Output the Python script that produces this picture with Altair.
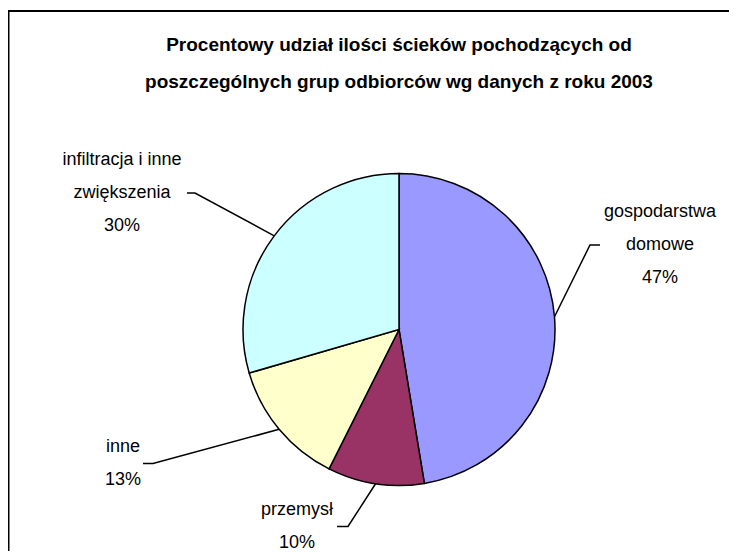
import math
import altair as alt
import pandas as pd

# ---- data ----
categories = ["gospodarstwa domowe", "przemysł", "inne", "infiltracja i inne zwiększenia"]
values = [47.4, 10.0, 13.1, 29.5]
label_names = [["gospodarstwa", "domowe"], ["przemysł"], ["inne"], ["infiltracja i inne", "zwiększenia"]]
colors = ["#9999FF", "#993366", "#FFFFCC", "#CCFFFF"]
title_lines = [
    "Procentowy udział ilości ścieków pochodzących od",
    "poszczególnych grup odbiorców wg danych z roku 2003",
]

# ---- layout (pixels inside the chart) ----
W, H = 721, 543
CX, CY, R = 391, 321.5, 156
LINE_H = 33
label_x = [652, 289, 115, 114]
label_y = [237, 518.5, 455.5, 185]   # vertical centre of each label block
elbow_x = [582, 340, 145, 187]
end_x = [592, 329, 135, 179]
title_x = 391
title_y = [37, 74]
FONT = "Liberation Sans"

total = sum(values)
pie_df = pd.DataFrame({"cat": categories, "value": values, "idx": list(range(len(values)))})

labels, text_y = [], []
for names, v, cy in zip(label_names, values, label_y):
    pct = round(v / total * 100)
    lines = names + [f"{pct}%"]
    labels.append("\n".join(lines))
    text_y.append(cy - (len(lines) - 1) * LINE_H / 2)
text_df = pd.DataFrame({"label": labels, "x": label_x, "y": text_y})

rows = []
cum = 0.0
for i, v in enumerate(values):
    mid = (cum + v / 2) / total * 2 * math.pi
    cum += v
    ex, ey = CX + R * math.sin(mid), CY - R * math.cos(mid)
    rows.append({"cat": categories[i], "o": 0, "x": ex, "y": ey})
    rows.append({"cat": categories[i], "o": 1, "x": elbow_x[i], "y": label_y[i]})
    rows.append({"cat": categories[i], "o": 2, "x": end_x[i], "y": label_y[i]})
lead_df = pd.DataFrame(rows)

title_df = pd.DataFrame({"t": title_lines, "x": [title_x] * 2, "y": title_y})

xs = alt.Scale(domain=[0, W], range=[0, W])
ys = alt.Scale(domain=[0, H], range=[0, H])

arcs = alt.Chart(pie_df).mark_arc(
    outerRadius=R, stroke="black", strokeWidth=1.5, x=CX, y=CY
).encode(
    theta=alt.Theta("value:Q", stack=True),
    color=alt.Color("cat:N", scale=alt.Scale(domain=categories, range=colors), legend=None),
    order=alt.Order("idx:Q"),
)

leaders = alt.Chart(lead_df).mark_line(color="black", strokeWidth=1.5).encode(
    x=alt.X("x:Q", scale=xs, axis=None),
    y=alt.Y("y:Q", scale=ys, axis=None),
    detail="cat:N",
    order="o:Q",
)

texts = alt.Chart(text_df).mark_text(
    font=FONT, fontSize=18, color="black", lineBreak="\n", lineHeight=LINE_H,
    align="center", baseline="middle"
).encode(
    x=alt.X("x:Q", scale=xs, axis=None),
    y=alt.Y("y:Q", scale=ys, axis=None),
    text="label:N",
)

titles = alt.Chart(title_df).mark_text(
    font=FONT, fontSize=19, fontWeight="bold", color="black",
    align="center", baseline="middle"
).encode(
    x=alt.X("x:Q", scale=xs, axis=None),
    y=alt.Y("y:Q", scale=ys, axis=None),
    text="t:N",
)

# chart-area frame (its right and bottom sides lie beyond the picture)
border_df = pd.DataFrame({"k": [0]})
frame = alt.Chart(border_df).mark_rect(
    fill="white", fillOpacity=0, stroke="black", strokeWidth=2
).encode(
    x=alt.value(0.5), x2=alt.value(W + 30), y=alt.value(3), y2=alt.value(H + 30)
)

chart = alt.layer(frame, leaders, arcs, texts, titles).properties(
    width=W, height=H, padding=0, autosize=alt.AutoSizeParams(type="none"),
    background="white",
).configure_view(strokeWidth=0)

chart.save("out.html", embed_options={"renderer": "svg", "actions": False})
